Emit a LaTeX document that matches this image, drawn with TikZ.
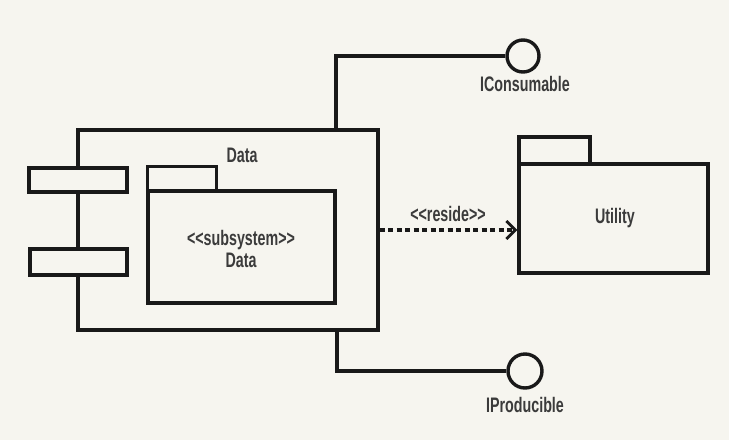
\documentclass[tikz,border=0pt]{standalone}
\usepackage{fontspec}
\newfontfamily\lab{Liberation Sans}
\usetikzlibrary{arrows.meta}
\definecolor{bg}{RGB}{246,245,239}
\definecolor{ink}{RGB}{25,25,25}
\tikzset{
  x=1pt, y=-1pt,
  umlline/.style={draw=ink, line width=3.4pt, line join=miter},
  box/.style={umlline, fill=bg, rectangle, inner sep=0pt, anchor=center},
  iface/.style={umlline, fill=bg, circle, inner sep=0pt, minimum size=32pt},
  txt/.style={font=\lab\bfseries\fontsize{21}{23}\selectfont, text=ink!85, inner sep=0pt, align=center, xscale=0.68},
  resides/.style={draw=ink, line width=3.2pt, dash pattern=on 5pt off 3.5pt, -{Straight Barb[length=9pt,width=18pt,line width=2.8pt]}}
}
\begin{document}
\begin{tikzpicture}
\fill[bg] (0,0) rectangle (729,440);
\useasboundingbox (0,0) rectangle (729,440);
% interfaces
\node[iface] (ic) at (523,56) {};
\node[iface, minimum size=34pt] (ip) at (525,371) {};
\node[txt] (icl) at (525,84) {IConsumable};
\node[txt] (ipl) at (525,405) {IProducible};
% component
\node[box, minimum width=300pt, minimum height=200pt] (comp) at (228,230) {};
\coordinate (ctop) at (336,130);
\coordinate (cbot) at (337,330);
\draw[umlline] (ctop) |- (ic.west);
\draw[umlline] (cbot) |- (ip.west);
\node[box, minimum width=98pt, minimum height=24pt] (p1) at (78,180) {};
\node[box, minimum width=97pt, minimum height=26pt] (p2) at (78.5,262) {};
\node[txt] (compl) at (242,155) {Data};
% inner subsystem package
\node[box, minimum width=69pt, minimum height=25pt] (stab) at (182,179) {};
\node[box, minimum width=187pt, minimum height=112pt] (sbody) at (241.5,247) {};
\node[txt, align=center] (sl) at (241,249) {<<subsystem>>\\[-1pt]Data};
% utility package
\node[box, minimum width=71pt, minimum height=27pt] (utab) at (554.5,150.5) {};
\node[box, minimum width=189pt, minimum height=109pt] (ubody) at (613.5,218.5) {};
\node[txt] (ul) at (615,218) {Utility};
% dependency
\draw[resides] (comp.east) -- (comp.east -| ubody.west);
\node[txt] (rl) at (448,214) {<<reside>>};
\end{tikzpicture}
\end{document}
